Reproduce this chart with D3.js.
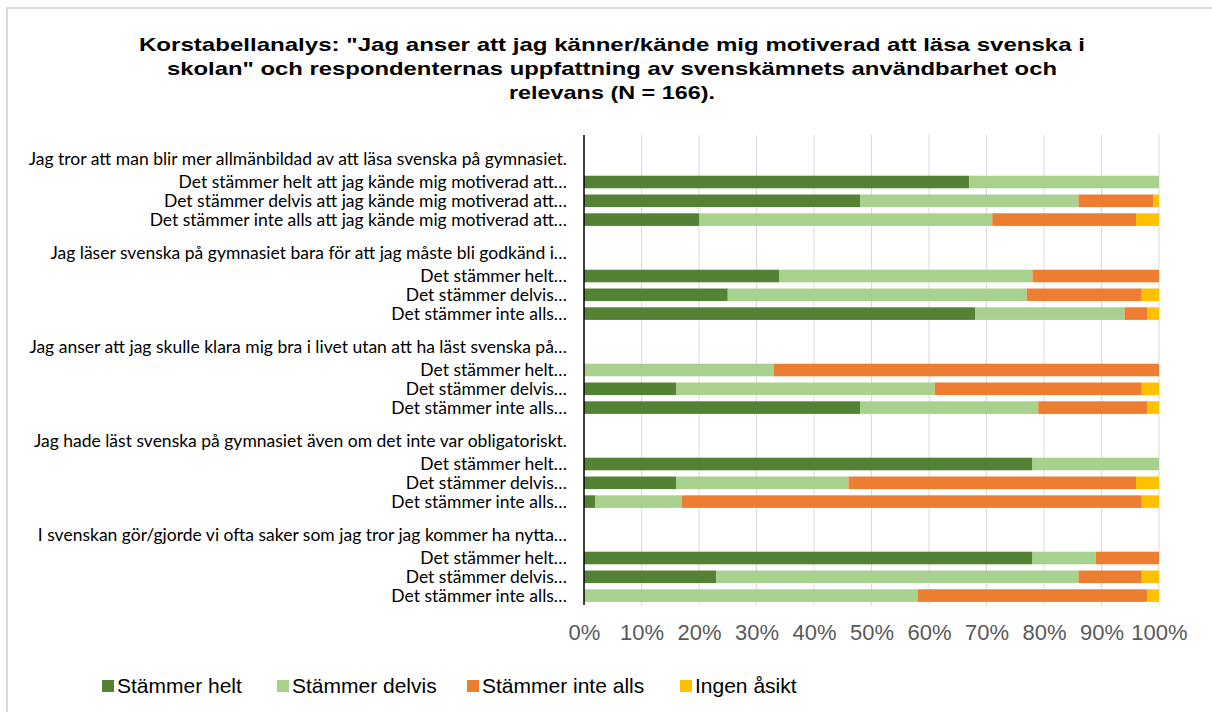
<!DOCTYPE html>
<html>
<head>
<meta charset="utf-8">
<script src="https://cdn.jsdelivr.net/npm/d3@7"></script>
<style>
  html, body { margin: 0; background: #fff; overflow: hidden; }
  svg { display: block; }
</style>
</head>
<body>
<div id="chart"></div>
<script>
// Kategorier (uppifrån och ned), tomma rader = mellanrum, rubriker = frågor utan staplar
const kategorier = [
  "",
  "Jag tror att man blir mer allmänbildad av att läsa svenska på gymnasiet.",
  "Det stämmer helt att jag kände mig motiverad att…",
  "Det stämmer delvis att jag kände mig motiverad att…",
  "Det stämmer inte alls att jag kände mig motiverad att…",
  " ",
  "Jag läser svenska på gymnasiet bara för att jag måste bli godkänd i…",
  "Det stämmer helt… ",
  "Det stämmer delvis… ",
  "Det stämmer inte alls… ",
  "  ",
  "Jag anser att jag skulle klara mig bra i livet utan att ha läst svenska på…",
  "Det stämmer helt…  ",
  "Det stämmer delvis…  ",
  "Det stämmer inte alls…  ",
  "   ",
  "Jag hade läst svenska på gymnasiet även om det inte var obligatoriskt.",
  "Det stämmer helt…   ",
  "Det stämmer delvis…   ",
  "Det stämmer inte alls…   ",
  "    ",
  "I svenskan gör/gjorde vi ofta saker som jag tror jag kommer ha nytta…",
  "Det stämmer helt…    ",
  "Det stämmer delvis…    ",
  "Det stämmer inte alls…    "
];
const rubriker = [1, 6, 11, 16, 21]; // index för frågerubrikerna

const serier = ["Stämmer helt", "Stämmer delvis", "Stämmer inte alls", "Ingen åsikt"];
const farger = ["#548235", "#A9D18E", "#ED7D31", "#FFC000"];

// Andel i procent per kategori (null = ingen stapel)
const stammerHelt    = [null, null, 67, 48, 20, null, null, 34, 25, 68, null, null, 0, 16, 48, null, null, 78, 16, 2, null, null, 78, 23, 0];
const stammerDelvis  = [null, null, 33, 38, 51, null, null, 44, 52, 26, null, null, 33, 45, 31, null, null, 22, 30, 15, null, null, 11, 63, 58];
const stammerInte    = [null, null, 0, 13, 25, null, null, 22, 20, 4, null, null, 67, 36, 19, null, null, 0, 50, 80, null, null, 11, 11, 40];
const ingenAsikt     = [null, null, 0, 1, 4, null, null, 0, 3, 2, null, null, 0, 3, 2, null, null, 0, 4, 3, null, null, 0, 3, 2];

const xTicks = [0, 10, 20, 30, 40, 50, 60, 70, 80, 90, 100];

const titelRader = [
  "Korstabellanalys: \"Jag anser att jag känner/kände mig motiverad att läsa svenska i",
  "skolan\" och respondenternas uppfattning av svenskämnets användbarhet och",
  "relevans (N = 166)."
];
const titelBredd = [946, 890, 206];

const width = 1212, height = 712;
const plot = { left: 584, right: 1159, top: 135, bottom: 605 };

const svg = d3.select("#chart").append("svg")
  .attr("width", width)
  .attr("height", height);

svg.append("rect").attr("width", width).attr("height", height).attr("fill", "#fff");

// ram runt diagrammet (syns bara upptill och till vänster)
svg.append("rect")
  .attr("x", 7).attr("y", 8)
  .attr("width", width + 20).attr("height", height + 20)
  .attr("fill", "none")
  .attr("stroke", "#d9d9d9")
  .attr("stroke-width", 2);

// titel
svg.append("g").selectAll("text")
  .data(titelRader)
  .enter().append("text")
  .attr("x", 612)
  .attr("y", (d, i) => 51 + i * 24)
  .attr("text-anchor", "middle")
  .attr("font-family", "'Liberation Sans', Arial, sans-serif")
  .attr("font-weight", "bold")
  .attr("font-size", "19px")
  .attr("fill", "#000")
  .attr("textLength", (d, i) => titelBredd[i])
  .attr("lengthAdjust", "spacingAndGlyphs")
  .text(d => d);

const x = d3.scaleLinear().domain([0, 100]).range([plot.left, plot.right]);
const y = d3.scaleBand().domain(kategorier).range([plot.top, plot.bottom]).paddingInner(0.33).paddingOuter(0.165);

// stödlinjer
svg.append("g").selectAll("line")
  .data(xTicks.slice(1))
  .enter().append("line")
  .attr("x1", d => x(d)).attr("x2", d => x(d))
  .attr("y1", plot.top).attr("y2", plot.bottom)
  .attr("stroke", "#d9d9d9")
  .attr("stroke-width", 1);

// staplade data
const rader = kategorier.map((k, i) => ({
  kategori: k,
  "Stämmer helt": stammerHelt[i] || 0,
  "Stämmer delvis": stammerDelvis[i] || 0,
  "Stämmer inte alls": stammerInte[i] || 0,
  "Ingen åsikt": ingenAsikt[i] || 0
}));
const stack = d3.stack().keys(serier)(rader);

svg.append("g").selectAll("g")
  .data(stack)
  .enter().append("g")
  .attr("fill", (d, i) => farger[i])
  .selectAll("rect")
  .data(d => d.filter(s => s[1] - s[0] > 0))
  .enter().append("rect")
  .attr("x", d => x(d[0]))
  .attr("y", d => y(d.data.kategori))
  .attr("width", d => x(d[1]) - x(d[0]))
  .attr("height", y.bandwidth());

// kategoriaxel
svg.append("line")
  .attr("x1", plot.left).attr("x2", plot.left)
  .attr("y1", plot.top).attr("y2", plot.bottom)
  .attr("stroke", "#000")
  .attr("stroke-width", 1.5);

svg.append("g").selectAll("text")
  .data(kategorier)
  .enter().append("text")
  .attr("x", 567)
  .attr("y", (d, i) => y(d) + y.bandwidth() / 2 + (rubriker.includes(i) ? -4 : 0))
  .attr("dy", "0.35em")
  .attr("text-anchor", "end")
  .attr("font-family", "Lato, 'Liberation Sans', sans-serif")
  .attr("font-size", "17.5px")
  .attr("fill", "#000")
  .text(d => d.trim());

// x-axel etiketter
const xAxis = svg.append("g")
  .attr("transform", `translate(0,${plot.bottom + 16})`)
  .call(d3.axisBottom(x).tickValues(xTicks).tickFormat(d => d + "%").tickSize(0));
xAxis.select(".domain").remove();
xAxis.selectAll("text")
  .attr("font-family", "'Liberation Sans', Arial, sans-serif")
  .attr("font-size", "22px")
  .attr("fill", "#595959");

// förklaring
const legendX = [102, 277, 467, 680];
const legend = svg.append("g").selectAll("g")
  .data(serier)
  .enter().append("g")
  .attr("transform", (d, i) => `translate(${legendX[i]},686)`);
legend.append("rect")
  .attr("x", 0).attr("y", -6)
  .attr("width", 12).attr("height", 12)
  .attr("fill", (d, i) => farger[i]);
legend.append("text")
  .attr("x", 15)
  .attr("dy", "0.35em")
  .attr("font-family", "'Liberation Sans', Arial, sans-serif")
  .attr("font-size", "21px")
  .attr("fill", "#000")
  .text(d => d);
</script>
</body>
</html>
